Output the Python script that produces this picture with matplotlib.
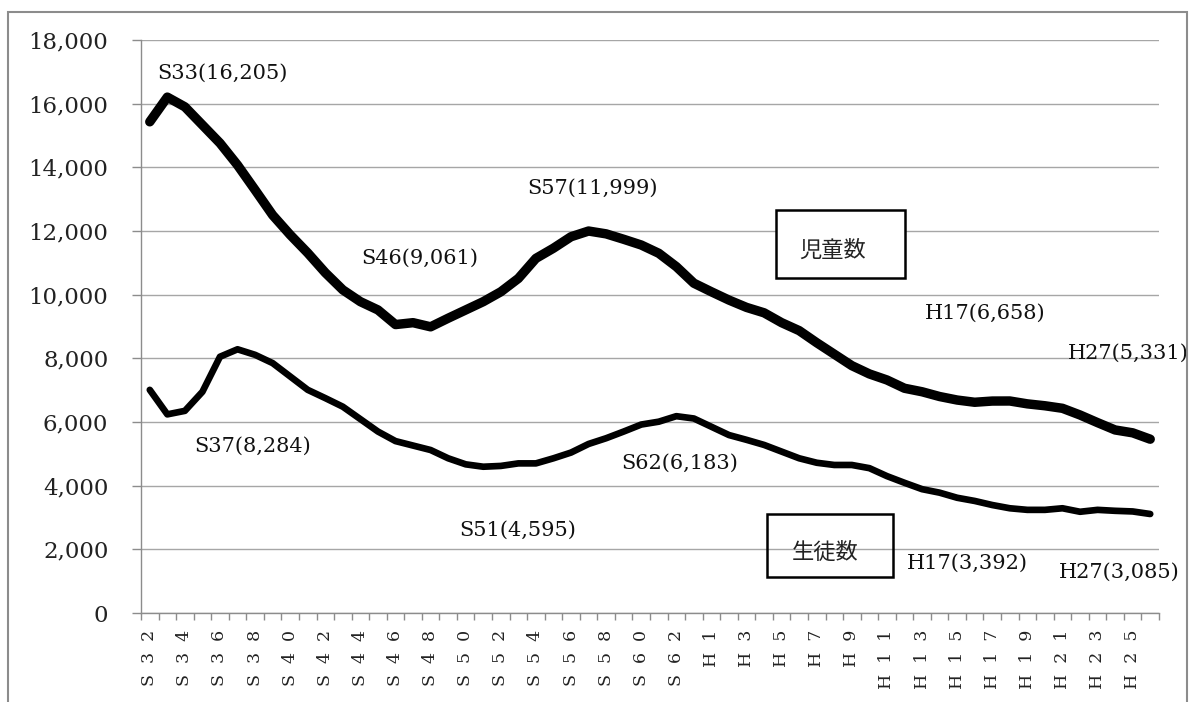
import matplotlib
matplotlib.use("Agg")
import matplotlib.pyplot as plt
from matplotlib.patches import Rectangle
from matplotlib.ticker import FuncFormatter
import numpy as np

# ---- data ----
categories = [f"S{n}" for n in range(32, 64)] + [f"H{n}" for n in range(1, 27)]
children = [15430, 16205, 15900, 15330, 14760, 14070, 13290, 12500, 11880, 11310,
            10690, 10150, 9780, 9520, 9061, 9120, 8990, 9260, 9520, 9780,
            10090, 10510, 11140, 11460, 11820, 11999, 11910, 11740, 11560, 11300,
            10880, 10360, 10090, 9830, 9600, 9430, 9120, 8870, 8490, 8130,
            7770, 7510, 7320, 7060, 6950, 6800, 6690, 6620, 6658, 6660,
            6570, 6510, 6430, 6220, 5980, 5750, 5660, 5460]
students = [7010, 6240, 6350, 6950, 8050, 8284, 8110, 7850, 7430, 7010,
            6750, 6480, 6090, 5700, 5400, 5260, 5120, 4860, 4670, 4595,
            4620, 4700, 4700, 4860, 5040, 5310, 5490, 5700, 5920, 6010,
            6183, 6110, 5850, 5590, 5440, 5280, 5070, 4860, 4720, 4650,
            4650, 4550, 4300, 4090, 3890, 3780, 3620, 3520, 3392, 3290,
            3240, 3240, 3290, 3180, 3240, 3210, 3190, 3110]
yticks = list(range(0, 18001, 2000))
# (series, index, label, dx_px, dy_px)
annotations = [
    ("children", 1, "S33(16,205)", 55, 24),
    ("children", 14, "S46(9,061)", 24, 66),
    ("children", 25, "S57(11,999)", 4, 43),
    ("children", 48, "H17(6,658)", -7, 88),
    ("children", 57, "H27(5,331)", -22, 86),
    ("students", 5, "S37(8,284)", 15, -97),
    ("students", 30, "S62(6,183)", 3, -47),
    ("students", 19, "S51(4,595)", 34, -64),
    ("students", 48, "H17(3,392)", -25, -58),
    ("students", 57, "H27(3,085)", -31, -58),
]
series = {"children": children, "students": students}

W, H = 1189, 702
fig = plt.figure(figsize=(W / 100, H / 100), dpi=100)
ax = fig.add_axes([141 / W, 89 / H, 1018 / W, 573 / H])

x = np.arange(len(categories))
ax.plot(x, children, color="black", lw=6.8, solid_capstyle="round",
        solid_joinstyle="round", zorder=3)
ax.plot(x, students, color="black", lw=4.8, solid_capstyle="round",
        solid_joinstyle="round", zorder=3)

ax.set_xlim(-0.5, len(categories) - 0.5)
ax.set_ylim(0, 18000)
ax.set_yticks(yticks)
ax.yaxis.set_major_formatter(FuncFormatter(lambda v, p: f"{int(v):,}"))
ax.grid(axis="y", color="#a6a6a6", lw=1.0, zorder=0)
ax.set_axisbelow(True)

for s in ["top", "right"]:
    ax.spines[s].set_visible(False)
for s in ["left", "bottom"]:
    ax.spines[s].set_color("#8c8c8c")
    ax.spines[s].set_linewidth(1.0)

label_idx = list(range(0, len(categories), 2))
ax.set_xticks(label_idx)
ax.set_xticklabels(["  ".join(categories[i]) for i in label_idx],
                   rotation=90, family="DejaVu Serif", fontsize=12.5, color="#222222")
ax.set_xticks(np.arange(-0.5, len(categories), 1), minor=True)
ax.tick_params(axis="x", which="major", length=0, pad=12)
ax.tick_params(axis="x", which="minor", length=5, color="#8c8c8c", width=1)
ax.tick_params(axis="y", which="major", length=6.5, color="#8c8c8c", width=1,
               pad=17, labelsize=16.5, labelcolor="#222222")
for t in ax.get_yticklabels():
    t.set_family("DejaVu Serif")

for name, i, txt, dx, dy in annotations:
    ax.annotate(txt, xy=(i, series[name][i]), xytext=(dx, dy),
                textcoords="offset pixels", ha="center", va="center",
                fontsize=15, family="DejaVu Serif", color="#111111",
                annotation_clip=False, zorder=4)

# legend-like boxes
ax.add_patch(Rectangle((0.6238, 0.5846), 0.1267, 0.1187, transform=ax.transAxes,
                       facecolor="white", edgecolor="black", lw=1.8, zorder=2,
                       clip_on=False))
ax.text(0.6798, 0.6335, "児童数", transform=ax.transAxes, ha="center", va="center",
        fontsize=16, family=["Noto Sans CJK JP", "DejaVu Sans"], color="#222222",
        zorder=5)
ax.add_patch(Rectangle((0.6149, 0.0628), 0.1238, 0.1100, transform=ax.transAxes,
                       facecolor="none", edgecolor="black", lw=1.8, zorder=2,
                       clip_on=False))
ax.text(0.6719, 0.1065, "生徒数", transform=ax.transAxes, ha="center", va="center",
        fontsize=16, family=["Noto Sans CJK JP", "DejaVu Sans"], color="#222222",
        zorder=5)

# outer chart frame
fig.add_artist(Rectangle((8 / W, -0.1), (1187 - 8) / W, 1.1 - 12 / H,
                         transform=fig.transFigure, fill=False,
                         edgecolor="#8c8c8c", lw=1.5))

fig.savefig("out.png", dpi=100)
